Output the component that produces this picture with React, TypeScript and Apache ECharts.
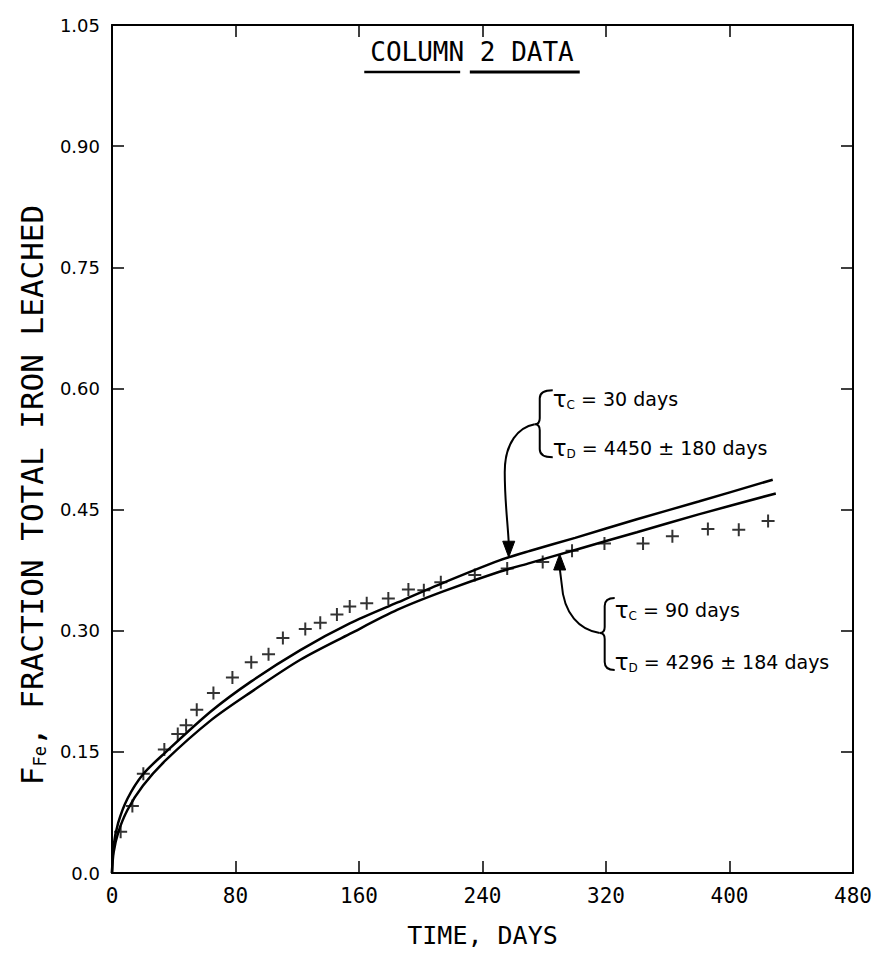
import React, { useEffect, useRef } from "react";
import * as echarts from "echarts";

// Measured data points (+ markers): time in days, fraction of total iron leached
const crossDays = [5.6, 13.2, 20.3, 33.9, 42.6, 48, 54.9, 65.7, 78, 90.2, 101.4, 110.7, 125.2, 134.9, 145.7, 154, 165, 179, 192, 202, 213, 235, 256, 279, 298, 319, 344, 363, 386, 406, 425];
const crossFraction = [0.051, 0.083, 0.123, 0.153, 0.172, 0.183, 0.202, 0.223, 0.242, 0.261, 0.271, 0.291, 0.302, 0.31, 0.32, 0.33, 0.334, 0.34, 0.351, 0.35, 0.36, 0.369, 0.377, 0.385, 0.399, 0.408, 0.408, 0.417, 0.426, 0.425, 0.436];

// Model curve, tau_c = 30 days
const upperDays = [0, 1, 4, 10, 20, 35, 64, 90, 122, 154, 185, 213, 251, 271, 300, 340, 380, 428];
const upperFraction = [0, 0.033, 0.062, 0.092, 0.122, 0.15, 0.2, 0.237, 0.276, 0.309, 0.335, 0.358, 0.387, 0.399, 0.415, 0.438, 0.46, 0.487];

// Model curve, tau_c = 90 days
const lowerDays = [0, 1, 4, 10, 20, 35, 64, 90, 122, 154, 185, 215, 251, 271, 300, 340, 380, 430];
const lowerFraction = [0, 0.025, 0.05, 0.078, 0.108, 0.14, 0.189, 0.224, 0.264, 0.296, 0.326, 0.349, 0.373, 0.384, 0.4, 0.422, 0.444, 0.47];

// Axis ranges / ticks
const xRange = [0, 480];
const xStep = 80;
const yRange = [0, 1.05];
const yStep = 0.15;

// Annotation anchors (arrow tips on the curves)
const arrowTarget30 = [257, 0.391];
const arrowTarget90 = [290, 0.395];

const MONO = '"DejaVu Sans Mono", "Liberation Mono", monospace';
const SANS = '"DejaVu Sans", "Noto Sans", sans-serif';

let registered = false;
function registerShapes() {
  if (registered) return;
  registered = true;
  const reg = (name: string, d: string) =>
    echarts.graphic.registerShape(name, echarts.graphic.extendPath(d, {}) as any);
  reg("brace30", "M44,-167 Q31,-167 31,-159 L31,-139 Q31,-133 26,-133 Q31,-133 31,-127 L31,-108 Q31,-100 44,-100");
  reg("shaft30", "M26,-133 C10,-130 -4,-115 -4,-85 C-4,-55 -1,-35 0,-14");
  reg("head30", "M-6,-16 L6,-16 L0,0 Z");
  reg("brace90", "M55,44 Q45,44 45,52 L45,73 Q45,79 40,79 Q45,79 45,85 L45,108 Q45,116 55,116");
  reg("shaft90", "M40,79 C20,76 4,60 2,30 L0,14");
  reg("head90", "M-6,16 L6,16 L0,0 Z");
}

export default function App() {
  const ref = useRef<HTMLDivElement>(null);
  useEffect(() => {
    registerShapes();
    const chart = echarts.init(ref.current!, null, { renderer: "svg" });
    const plus = "path://M0,5.5H13V7.5H0Z M5.5,0H7.5V13H5.5Z";
    const axisCommon = {
      type: "value" as const,
      splitLine: { show: false },
      axisLine: { show: true, onZero: false, lineStyle: { color: "#000", width: 2 } },
      axisTick: { show: true, inside: true, length: 12, lineStyle: { color: "#000", width: 1.5 } },
    };
    chart.setOption({
      animation: false,
      backgroundColor: "#fff",
      grid: { left: 112, right: 24, top: 25, bottom: 95 },
      xAxis: [
        {
          ...axisCommon,
          min: xRange[0],
          max: xRange[1],
          interval: xStep,
          position: "bottom",
          axisLabel: { fontFamily: MONO, fontSize: 21, color: "#000", margin: 12 },
          name: "TIME, DAYS",
          nameLocation: "middle",
          nameGap: 50,
          nameTextStyle: { fontFamily: MONO, fontSize: 25, color: "#000" },
        },
        {
          ...axisCommon,
          min: xRange[0],
          max: xRange[1],
          interval: xStep,
          position: "top",
          axisLabel: { show: false },
        },
      ],
      yAxis: [
        {
          ...axisCommon,
          min: yRange[0],
          max: yRange[1],
          interval: yStep,
          position: "left",
          axisLabel: {
            fontFamily: SANS,
            fontSize: 18,
            color: "#000",
            margin: 12,
            formatter: (v: number) => (v === 0 ? "0.0" : v.toFixed(2)),
          },
        },
        {
          ...axisCommon,
          min: yRange[0],
          max: yRange[1],
          interval: yStep,
          position: "right",
          axisLabel: { show: false },
        },
      ],
      series: [
        {
          type: "line",
          name: "tau_c = 30 days",
          data: upperDays.map((d, i) => [d, upperFraction[i]]),
          showSymbol: false,
          smooth: 0.3,
          lineStyle: { color: "#000", width: 2.5 },
          z: 3,
        },
        {
          type: "line",
          name: "tau_c = 90 days",
          data: lowerDays.map((d, i) => [d, lowerFraction[i]]),
          showSymbol: false,
          smooth: 0.3,
          lineStyle: { color: "#000", width: 2.5 },
          z: 3,
        },
        {
          type: "scatter",
          name: "Column 2 data",
          data: crossDays.map((d, i) => [d, crossFraction[i]]),
          symbol: plus,
          symbolSize: 13,
          itemStyle: { color: "#000" },
          z: 4,
        },
      ],
    });

    const t1 = chart.convertToPixel({ xAxisIndex: 0, yAxisIndex: 0 }, arrowTarget30) as number[];
    const t2 = chart.convertToPixel({ xAxisIndex: 0, yAxisIndex: 0 }, arrowTarget90) as number[];
    const stroke = { fill: "none", stroke: "#000", lineWidth: 2 };
    const rich = {
      t: { fontFamily: SANS, fontSize: 23, color: "#000" },
      s: { fontFamily: SANS, fontSize: 12, color: "#000", padding: [12, 0, 0, 0] },
      n: { fontFamily: SANS, fontSize: 19, color: "#000" },
    };
    const ann = (x: number, y: number, sub: string, rest: string) => ({
      type: "text",
      x,
      y,
      style: {
        text: `{t|τ}{s|${sub}}{n|${rest}}`,
        rich,
        align: "left",
        verticalAlign: "middle",
      },
    });
    const titleX = 472;
    const titleSize = 26;
    const cw = titleSize * 0.602;
    const tx0 = titleX - 6.5 * cw;

    chart.setOption({
      graphic: [
        {
          type: "text",
          x: titleX,
          y: 52,
          style: {
            text: "COLUMN 2 DATA",
            fontFamily: MONO,
            fontSize: titleSize,
            fill: "#000",
            align: "center",
            verticalAlign: "middle",
          },
        },
        { type: "line", shape: { x1: tx0 - 6, y1: 72, x2: tx0 + 6 * cw - 4, y2: 72 }, style: { stroke: "#000", lineWidth: 2.5 } },
        { type: "line", shape: { x1: tx0 + 7 * cw - 10, y1: 72, x2: tx0 + 13 * cw + 6, y2: 72 }, style: { stroke: "#000", lineWidth: 3 } },
        {
          type: "text",
          x: 32,
          y: 495,
          rotation: Math.PI / 2,
          style: {
            text: "{a|F}{b|Fe}{a|, FRACTION TOTAL IRON LEACHED}",
            rich: {
              a: { fontFamily: MONO, fontSize: 31, color: "#000" },
              b: { fontFamily: MONO, fontSize: 17, color: "#000", padding: [16, 0, 0, 0] },
            },
            align: "center",
            verticalAlign: "middle",
          },
        },
        { type: "brace30", x: t1[0], y: t1[1], style: stroke },
        { type: "shaft30", x: t1[0], y: t1[1], style: stroke },
        { type: "head30", x: t1[0], y: t1[1], style: { fill: "#000", stroke: "#000", lineWidth: 1 } },
        ann(t1[0] + 44, t1[1] - 158, "C", " = 30 days"),
        ann(t1[0] + 44, t1[1] - 109, "D", " = 4450 ± 180 days"),
        { type: "brace90", x: t2[0], y: t2[1], style: stroke },
        { type: "shaft90", x: t2[0], y: t2[1], style: stroke },
        { type: "head90", x: t2[0], y: t2[1], style: { fill: "#000", stroke: "#000", lineWidth: 1 } },
        ann(t2[0] + 55, t2[1] + 56, "C", " = 90 days"),
        ann(t2[0] + 55, t2[1] + 108, "D", " = 4296 ± 184 days"),
      ],
    });
    return () => chart.dispose();
  }, []);
  return (
    <div
      ref={ref}
      style={{ position: "fixed", left: 0, top: 0, width: 877, height: 968, background: "#fff" }}
    />
  );
}
